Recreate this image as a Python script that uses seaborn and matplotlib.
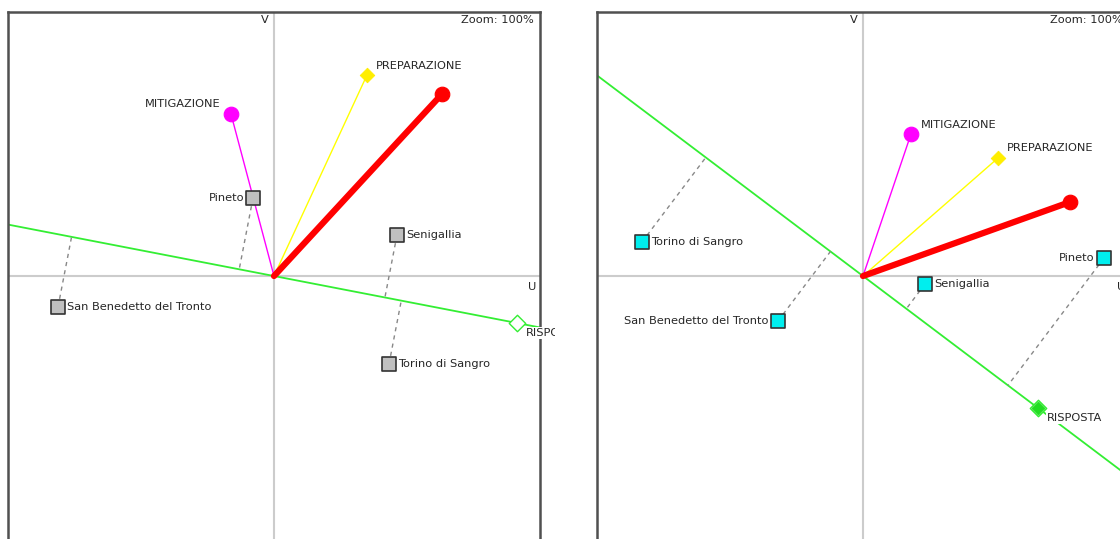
import numpy as np
import pandas as pd
import seaborn as sns
import matplotlib.pyplot as plt
from matplotlib.transforms import Bbox

# Biplot values (U, V coordinates)
places = ['Pineto', 'Senigallia', 'San Benedetto del Tronto', 'Torino di Sangro']
left_u = [-0.21, 1.23, -2.16, 1.15]
left_v = [0.78, 0.41, -0.31, -0.88]
right_u = [2.41, 0.62, -0.85, -2.21]
right_v = [0.18, -0.08, -0.45, 0.34]

phases = ['MITIGAZIONE', 'PREPARAZIONE', 'RISPOSTA']
left_phase_u = [-0.43, 0.93, 2.43]
left_phase_v = [1.62, 2.01, -0.47]
right_phase_u = [0.48, 1.35, 1.75]
right_phase_v = [1.42, 1.18, -1.32]

# red vector (no label)
left_red = (1.68, 1.82)
right_red = (2.07, 0.74)

# label offsets in pixels
left_place_off = {'Pineto': (-9, 0, 'right'), 'Senigallia': (9, 0, 'left'),
                  'San Benedetto del Tronto': (9, 0, 'left'), 'Torino di Sangro': (9, 0, 'left')}
right_place_off = {'Pineto': (-9, 0, 'right'), 'Senigallia': (9, 0, 'left'),
                   'San Benedetto del Tronto': (-9, 0, 'right'), 'Torino di Sangro': (9, 0, 'left')}
left_phase_off = {'MITIGAZIONE': (-10, 10, 'right'), 'PREPARAZIONE': (9, 9, 'left'),
                  'RISPOSTA': (9, -10, 'left')}
right_phase_off = {'MITIGAZIONE': (10, 9, 'left'), 'PREPARAZIONE': (9, 10, 'left'),
                   'RISPOSTA': (9, -10, 'left')}

sns.set_style('white')
plt.rcParams['font.family'] = ['DejaVu Sans']
txt_color = '#262626'
fs = 8.2

fig = plt.figure(figsize=(11.2, 5.39), dpi=100)
ax_left = fig.add_axes([8 / 1120, -0.0019, 532 / 1120, 528 / 539])
ax_right = fig.add_axes([597 / 1120, -0.0019, 532 / 1120, 528 / 539])


def label(ax, text, xy, off, ha, xycoords='data', bg=False, extra=0):
    t = ax.annotate(text, xy, xycoords=xycoords, xytext=off[:2], textcoords='offset pixels',
                    ha=ha, va='center', fontsize=fs, color=txt_color, zorder=7,
                    annotation_clip=False)
    t.set_clip_on(True)
    x0, y0, x1, y1 = ax.bbox.extents
    t.set_clip_box(Bbox.from_extents(x0, y0, x1 + extra, y1))
    if bg:
        t.set_bbox(dict(facecolor='white', edgecolor='none', pad=1))
    return t


def draw_panel(ax, pu, pv, phu, phv, red, place_off, phase_off, place_color, risp_filled):
    ax.set_xlim(-2.66, 2.66)
    ax.set_ylim(-2.64, 2.64)
    ax.set_xticks([])
    ax.set_yticks([])
    for s in ax.spines.values():
        s.set_color('#505050')
        s.set_linewidth(1.8)
    ax.axhline(0, color='#cccccc', lw=1.5, zorder=1)
    ax.axvline(0, color='#cccccc', lw=1.5, zorder=1)

    places_df = pd.DataFrame({'u': pu, 'v': pv, 'name': places})
    phase_df = pd.DataFrame({'u': phu, 'v': phv, 'name': phases})

    # RISPOSTA axis (infinite line through origin)
    r = phase_df[phase_df.name == 'RISPOSTA'].iloc[0]
    ax.axline((0, 0), (r.u, r.v), color='#33ee33', lw=1.3, zorder=2)

    # dashed projections of the places on the RISPOSTA axis
    d = np.array([r.u, r.v]) / np.hypot(r.u, r.v)
    for _, p in places_df.iterrows():
        proj = np.dot([p.u, p.v], d) * d
        ax.plot([p.u, proj[0]], [p.v, proj[1]], color='#888888', lw=1.0,
                ls=(0, (3, 3)), zorder=2)

    # vectors
    m = phase_df[phase_df.name == 'MITIGAZIONE'].iloc[0]
    pr = phase_df[phase_df.name == 'PREPARAZIONE'].iloc[0]
    ax.plot([0, m.u], [0, m.v], color='#ff00ff', lw=1.0, zorder=3)
    ax.plot([0, pr.u], [0, pr.v], color='#ffff00', lw=1.0, zorder=3)
    ax.plot([0, red[0]], [0, red[1]], color='#ff0000', lw=4.5, zorder=4,
            solid_capstyle='round')

    sns.scatterplot(x=[m.u], y=[m.v], ax=ax, color='#ff00ff', marker='o', s=110,
                    edgecolor='#ff00ff', zorder=5)
    sns.scatterplot(x=[pr.u], y=[pr.v], ax=ax, color='#ffee00', marker='D', s=55,
                    edgecolor='#ffee00', zorder=5)
    sns.scatterplot(x=[red[0]], y=[red[1]], ax=ax, color='#ff0000', marker='o', s=110,
                    edgecolor='#ff0000', zorder=5)
    if risp_filled:
        sns.scatterplot(x=[r.u], y=[r.v], ax=ax, color='white', marker='D', s=70,
                        edgecolor='#33ee33', linewidth=1.0, zorder=5)
        sns.scatterplot(x=[r.u], y=[r.v], ax=ax, color='#22dd22', marker='D', s=45,
                        edgecolor='#22dd22', zorder=5)
    else:
        sns.scatterplot(x=[r.u], y=[r.v], ax=ax, color='white', marker='D', s=70,
                        edgecolor='#33ee33', linewidth=1.0, zorder=5)

    sns.scatterplot(data=places_df, x='u', y='v', ax=ax, color=place_color, marker='s',
                    s=110, edgecolor='#333333', linewidth=1.2, zorder=6)

    for _, p in places_df.iterrows():
        dx, dy, ha = place_off[p['name']]
        label(ax, p['name'], (p.u, p.v), (dx, dy), ha)
    for _, p in phase_df.iterrows():
        dx, dy, ha = phase_off[p['name']]
        label(ax, p['name'], (p.u, p.v), (dx, dy), ha, bg=(p['name'] == 'RISPOSTA'),
              extra=(15 if p['name'] == 'RISPOSTA' else 0))

    label(ax, 'V', (0, 1), (-5, -8), 'right', xycoords=('data', 'axes fraction'))
    label(ax, 'U', (1, 0), (-8, -11), 'center', xycoords=('axes fraction', 'data'))
    label(ax, 'Zoom: 100%', (1, 1), (-6, -8), 'right', xycoords='axes fraction')


draw_panel(ax_left, left_u, left_v, left_phase_u, left_phase_v, left_red,
           left_place_off, left_phase_off, '#c0c0c0', False)
draw_panel(ax_right, right_u, right_v, right_phase_u, right_phase_v, right_red,
           right_place_off, right_phase_off, '#00eeee', True)

fig.savefig('out.png', dpi=100)
